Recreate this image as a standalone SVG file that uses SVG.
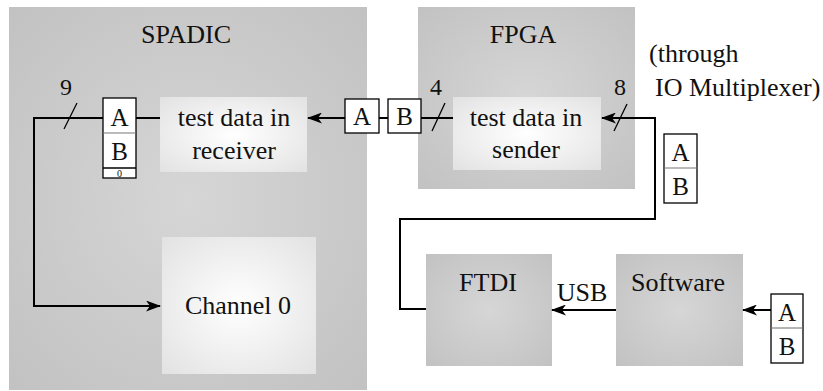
<svg xmlns="http://www.w3.org/2000/svg" width="823" height="391" viewBox="0 0 823 391">
<defs>
<radialGradient id="gOuter" cx="50%" cy="50%" r="70%">
<stop offset="0" stop-color="#d6d6d6"/>
<stop offset="1" stop-color="#c2c2c2"/>
</radialGradient>
<radialGradient id="gInner" cx="50%" cy="50%" r="70%">
<stop offset="0" stop-color="#ffffff"/>
<stop offset="1" stop-color="#e2e2e2"/>
</radialGradient>
<marker id="arr" viewBox="0 0 15 11" refX="14" refY="5.5" markerWidth="15" markerHeight="11" markerUnits="userSpaceOnUse" orient="auto">
<path d="M0,0 L15,5.5 L0,11 L4,5.5 z" fill="#000"/>
</marker>
</defs>
<style>
text{font-family:"Liberation Serif","DejaVu Serif",serif;font-size:26px;fill:#111}
.mid{text-anchor:middle}
.outer{fill:url(#gOuter)}
.inner{fill:url(#gInner)}
.reg{fill:#fff;stroke:#000;stroke-width:1.3}
.div{stroke:#777;stroke-width:1.1}
.wire{fill:none;stroke:#000;stroke-width:2}
.slash{stroke:#000;stroke-width:1.3}
.small{font-size:10px}
.num{font-size:24px}
.ab{font-size:25px}
</style>

<g id="spadic">
<rect class="outer" x="9" y="7" width="358" height="383"/>
<text class="mid" x="186" y="43">SPADIC</text>
</g>
<g id="fpga">
<rect class="outer" x="418" y="7" width="217" height="182"/>
<text class="mid" x="523" y="43">FPGA</text>
</g>
<g id="receiver">
<rect class="inner" x="160" y="97" width="147" height="75"/>
<text class="mid" x="234" y="126">test data in</text>
<text class="mid" x="234" y="159">receiver</text>
</g>
<g id="sender">
<rect class="inner" x="453" y="97" width="148" height="73"/>
<text class="mid" x="526" y="126">test data in</text>
<text class="mid" x="526" y="158">sender</text>
</g>
<g id="channel0">
<rect class="inner" x="162" y="237" width="154" height="137"/>
<text class="mid" x="238" y="314">Channel 0</text>
</g>
<g id="ftdi">
<rect class="outer" x="426" y="254" width="126" height="112"/>
<text class="mid" x="488" y="291">FTDI</text>
</g>
<g id="software">
<rect class="outer" x="616" y="254" width="127" height="112"/>
<text class="mid" x="678" y="291">Software</text>
</g>

<g id="connectors">
<path class="wire" d="M103,118 H34 V306 H160" marker-end="url(#arr)"/>
<path class="wire" d="M136,118 H160"/>
<path class="wire" d="M345,118 H308" marker-end="url(#arr)"/>
<path class="wire" d="M379,118 H388"/>
<path class="wire" d="M421,118 H453"/>
<path class="wire" d="M426,309 H400 V219 H655 V118 H602" marker-end="url(#arr)"/>
<path class="wire" d="M616,310 H552" marker-end="url(#arr)"/>
<path class="wire" d="M771,310 H743" marker-end="url(#arr)"/>
<line class="slash" x1="77" y1="103" x2="64" y2="129"/>
<line class="slash" x1="445" y1="103" x2="432" y2="131"/>
<line class="slash" x1="627" y1="104" x2="614" y2="131"/>
<text class="num mid" x="66" y="95">9</text>
<text class="num mid" x="436" y="95">4</text>
<text class="num mid" x="620" y="95">8</text>
<text class="mid" x="582" y="301">USB</text>
<text x="649" y="62">(through</text>
<text x="655" y="96">IO Multiplexer)</text>
</g>

<g id="reg-spadic">
<rect class="reg" x="103" y="98" width="33" height="80"/>
<line class="div" x1="103" y1="133" x2="136" y2="133"/>
<line class="reg" x1="103" y1="168" x2="136" y2="168"/>
<text class="mid ab" x="119.5" y="126">A</text>
<text class="mid ab" x="119.5" y="160">B</text>
<text class="mid small" x="119.5" y="177">0</text>
</g>
<g id="reg-a">
<rect class="reg" x="345" y="99" width="34" height="34"/>
<text class="mid ab" x="362" y="125">A</text>
</g>
<g id="reg-b">
<rect class="reg" x="388" y="99" width="33" height="34"/>
<text class="mid ab" x="404.5" y="125">B</text>
</g>
<g id="reg-io">
<rect class="reg" x="664" y="134" width="33" height="69"/>
<line class="div" x1="664" y1="168" x2="697" y2="168"/>
<text class="mid ab" x="680.5" y="161">A</text>
<text class="mid ab" x="680.5" y="195">B</text>
</g>
<g id="reg-sw">
<rect class="reg" x="771" y="294" width="32" height="69"/>
<line class="div" x1="771" y1="328" x2="803" y2="328"/>
<text class="mid ab" x="787" y="321">A</text>
<text class="mid ab" x="787" y="355">B</text>
</g>
</svg>
